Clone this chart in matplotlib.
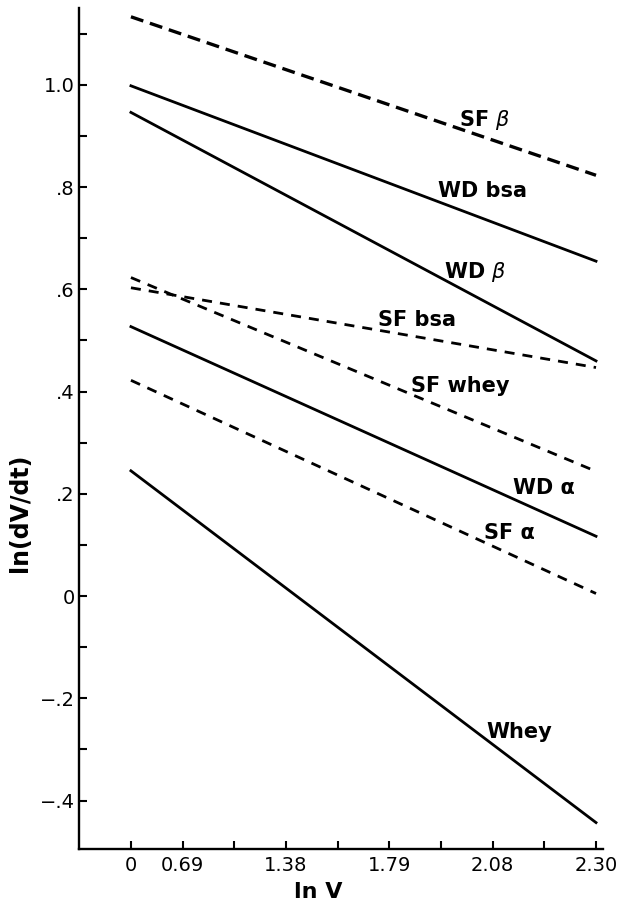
import numpy as np
import matplotlib
matplotlib.use("Agg")
import matplotlib.pyplot as plt

# x axis: evenly spaced tick slots, only some carry a ln V label
x_tick_labels = ["0", "0.69", "", "1.38", "", "1.79", "", "2.08", "", "2.30"]
x_start, x_end = 0, 9

# line names and their ln(dV/dt) values at the first and last slot
names = ["SF β", "WD bsa", "WD β", "SF bsa", "SF whey", "WD α", "SF α", "Whey"]
y_start = [1.133, 0.998, 0.946, 0.603, 0.623, 0.527, 0.422, 0.245]
y_end = [0.823, 0.655, 0.460, 0.447, 0.244, 0.117, 0.005, -0.443]
dashed = [True, False, False, True, True, False, True, False]

# where each curve label sits (data coords)
label_pos = {
    "SF β": (6.85, 0.931),
    "WD bsa": (6.81, 0.792),
    "WD β": (6.67, 0.633),
    "SF bsa": (5.53, 0.540),
    "SF whey": (6.38, 0.411),
    "WD α": (8.00, 0.211),
    "SF α": (7.33, 0.123),
    "Whey": (7.52, -0.266),
}

plt.rcParams['lines.scale_dashes'] = False

fig = plt.figure(figsize=(6.31, 9.02), dpi=100)
ax = fig.add_axes([0.1252, 0.0588, 0.83, 0.932])

for name, y0, y1, ds in zip(names, y_start, y_end, dashed):
    if ds:
        if name == "SF β":
            ax.plot([x_start, x_end], [y0, y1], color='black', lw=2.4,
                    dashes=(9.4, 5.0))
        else:
            ax.plot([x_start, x_end], [y0, y1], color='black', lw=2.0,
                    dashes=(7.2, 5.8))
    else:
        ax.plot([x_start, x_end], [y0, y1], color='black', lw=2.0)

for name in names:
    tx, ty = label_pos[name]
    if "β" in name:
        txt = name.replace("β", r"$\beta$")
    else:
        txt = name
    ax.text(tx, ty, txt, ha='center', va='center', fontsize=15,
            fontweight='bold', color='black')

ax.set_xlim(-1.005, 9.13)
ax.set_ylim(-0.4946, 1.1496)

ax.set_xticks(np.arange(len(x_tick_labels)))
ax.set_xticklabels(x_tick_labels, fontsize=14)

y_major = [-0.4, -0.2, 0, 0.2, 0.4, 0.6, 0.8, 1.0]
y_major_labels = ["−.4", "−.2", "0", ".2", ".4", ".6", ".8", "1.0"]
ax.set_yticks(y_major)
ax.set_yticklabels(y_major_labels, fontsize=14)
ax.set_yticks([-0.3, -0.1, 0.1, 0.3, 0.5, 0.7, 0.9, 1.1], minor=True)

ax.tick_params(axis='both', which='both', direction='in', length=5.8,
               width=1.5, color='black')
ax.tick_params(axis='x', pad=5)
ax.tick_params(axis='y', pad=3)

for side in ['top', 'right']:
    ax.spines[side].set_visible(False)
for side in ['left', 'bottom']:
    ax.spines[side].set_linewidth(1.7)

fig.text(0.0317, 0.431, "ln(dV/dt)", rotation=90, ha='center', va='center',
         fontsize=17, fontweight='bold')
fig.text(0.504, 0.0114, "ln V", ha='center', va='center',
         fontsize=16, fontweight='bold')

fig.savefig("out.png", dpi=100)
